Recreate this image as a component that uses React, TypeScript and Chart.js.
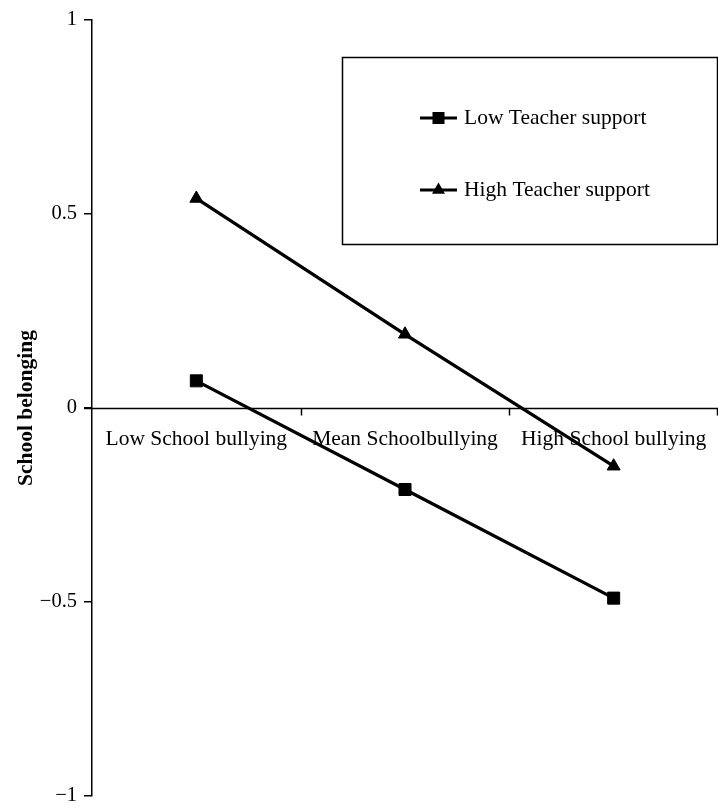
import React, { useEffect, useRef } from "react";
import { Chart, registerables } from "chart.js";

Chart.register(...registerables);

const categories = ["Low School bullying", "Mean Schoolbullying", "High School bullying"];
const lowTeacherSupport = [0.07, -0.21, -0.49];
const highTeacherSupport = [0.54, 0.19, -0.15];
const seriesNames = ["Low Teacher support", "High Teacher support"];
const seriesMarkers = ["rect", "triangle"];
const yTicks = [-1, -0.5, 0, 0.5, 1];
const yTitle = "School belonging";

const SERIF = "'Liberation Serif', 'Times New Roman', serif";

function fmt(v: number): string {
  if (v === 0) return "0";
  return v < 0 ? "\u2212" + String(Math.abs(v)) : String(v);
}

function drawMarker(ctx: CanvasRenderingContext2D, style: string, x: number, y: number, r: number) {
  ctx.beginPath();
  if (style === "rect") {
    const s = r * Math.SQRT1_2;
    ctx.rect(x - s, y - s, 2 * s, 2 * s);
  } else {
    let rad = 0;
    ctx.moveTo(x + Math.sin(rad) * r, y - Math.cos(rad) * r);
    rad += (2 * Math.PI) / 3;
    ctx.lineTo(x + Math.sin(rad) * r, y - Math.cos(rad) * r);
    rad += (2 * Math.PI) / 3;
    ctx.lineTo(x + Math.sin(rad) * r, y - Math.cos(rad) * r);
    ctx.closePath();
  }
  ctx.fill();
}

const zeroAxisPlugin = {
  id: "zeroAxis",
  beforeDatasetsDraw(chart: any) {
    const { ctx, chartArea, scales } = chart;
    const xs = scales.x;
    const ys = scales.y;
    const y0 = Math.round(ys.getPixelForValue(0)) + 0.5;
    ctx.save();
    ctx.strokeStyle = "#000";
    ctx.lineWidth = 1.5;
    ctx.beginPath();
    ctx.moveTo(chartArea.left - 8, y0);
    ctx.lineTo(chartArea.right, y0);
    const n = categories.length;
    const band = xs.getPixelForValue(1) - xs.getPixelForValue(0);
    for (let i = 0; i < n; i++) {
      const bx = Math.min(Math.round(xs.getPixelForValue(i) + band / 2), chartArea.right - 1) + 0.5;
      ctx.moveTo(bx, y0);
      ctx.lineTo(bx, y0 + 7);
    }
    ctx.stroke();
    ctx.restore();
  },
};

const legendBoxPlugin = {
  id: "legendBox",
  afterDraw(chart: any) {
    const { ctx } = chart;
    ctx.save();
    ctx.strokeStyle = "#000";
    ctx.fillStyle = "#000";
    ctx.lineWidth = 1.5;
    ctx.strokeRect(342.5, 57.5, 375, 187);
    chart.data.datasets.forEach((d: any, i: number) => {
      const y = 118 + i * 72;
      ctx.lineWidth = 3;
      ctx.beginPath();
      ctx.moveTo(420, y);
      ctx.lineTo(457, y);
      ctx.stroke();
      drawMarker(ctx, d.pointStyle, 438.5, y, d.pointStyle === "rect" ? 8.5 : 7.5);
      ctx.font = `21.5px ${SERIF}`;
      ctx.textAlign = "left";
      ctx.textBaseline = "middle";
      ctx.fillText(d.label, 464, y);
    });
    ctx.restore();
  },
};

export default function App() {
  const canvasRef = useRef<HTMLCanvasElement | null>(null);

  useEffect(() => {
    const canvas = canvasRef.current;
    if (!canvas) return;
    const chart = new Chart(canvas, {
      type: "line",
      data: {
        labels: categories,
        datasets: [
          {
            label: seriesNames[0],
            data: lowTeacherSupport,
            borderColor: "#000",
            backgroundColor: "#000",
            pointBackgroundColor: "#000",
            pointBorderColor: "#000",
            borderWidth: 3.3,
            pointStyle: seriesMarkers[0] as any,
            pointRadius: 8.5,
            pointBorderWidth: 1,
            tension: 0,
          },
          {
            label: seriesNames[1],
            data: highTeacherSupport,
            borderColor: "#000",
            backgroundColor: "#000",
            pointBackgroundColor: "#000",
            pointBorderColor: "#000",
            borderWidth: 3.3,
            pointStyle: seriesMarkers[1] as any,
            pointRadius: 7.5,
            pointBorderWidth: 1,
            tension: 0,
          },
        ],
      },
      options: {
        animation: false,
        responsive: false,
        devicePixelRatio: 1,
        layout: { autoPadding: false, padding: { top: 20, bottom: 11, left: 0, right: 0 } },
        plugins: {
          legend: { display: false },
          tooltip: { enabled: false },
        },
        scales: {
          x: {
            type: "category",
            offset: true,
            position: { y: 0 } as any,
            grid: { display: false, drawTicks: false },
            border: { display: false },
            ticks: {
              color: "#000",
              font: { family: SERIF, size: 21.5 },
              padding: 18,
              maxRotation: 0,
              autoSkip: false,
            },
            afterFit: (scale: any) => {
              scale.paddingLeft = 0;
              scale.paddingRight = 0;
              scale.paddingTop = 0;
              scale.paddingBottom = 0;
            },
          },
          y: {
            type: "linear",
            min: -1,
            max: 1,
            afterBuildTicks: (scale: any) => {
              scale.ticks = yTicks.map((v) => ({ value: v }));
            },
            ticks: {
              color: "#000",
              font: { family: SERIF, size: 20.5 },
              padding: 7,
              callback: (v: any) => fmt(Number(v)),
            },
            grid: {
              drawOnChartArea: false,
              drawTicks: true,
              tickLength: 8,
              color: "#000",
              lineWidth: 1.5,
            },
            border: { display: true, color: "#000", width: 1.5 },
            title: {
              display: true,
              text: yTitle,
              color: "#000",
              font: { family: SERIF, size: 21.5, weight: "bold" },
              padding: { top: 14, bottom: 0 },
            },
            afterFit: (scale: any) => {
              scale.width = 92;
              scale.paddingTop = 0;
              scale.paddingBottom = 0;
            },
          },
        },
      },
      plugins: [zeroAxisPlugin, legendBoxPlugin],
    });
    return () => chart.destroy();
  }, []);

  return (
    <div style={{ position: "absolute", left: 0, top: 0, width: 718, height: 807, background: "#fff" }}>
      <canvas ref={canvasRef} width={718} height={807} style={{ display: "block" }} />
    </div>
  );
}
